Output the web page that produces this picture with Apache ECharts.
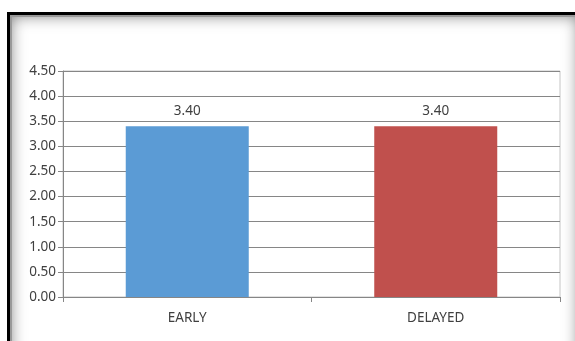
<!DOCTYPE html>
<html>
<head>
<meta charset="utf-8">
<script src="https://cdn.jsdelivr.net/npm/echarts@6/dist/echarts.min.js"></script>
<style>
  html, body { margin: 0; padding: 0; background: #fff; overflow: hidden; }
  #wrap { position: relative; width: 575px; height: 341px; overflow: hidden; }
  #frame {
    position: absolute; left: 7px; top: 12px; width: 572px; height: 360px;
    border: 3px solid #000; border-right: none; box-sizing: border-box;
    box-shadow: inset 2px 2px 0 #999, inset 0 0 16px rgba(0,0,0,0.55);
  }
  #chart { position: absolute; left: 0; top: 0; width: 575px; height: 341px; }
</style>
</head>
<body>
<div id="wrap">
  <div id="frame"></div>
  <div id="chart"></div>
</div>
<script>
const categories = ['EARLY', 'DELAYED'];
const values = [3.40, 3.40];
const barColors = ['#5B9BD5', '#C0504D'];
const yMin = 0, yMax = 4.5, yStep = 0.5;

const textFont = 'Noto Sans';
const textSize = 13.5;
const chart = echarts.init(document.getElementById('chart'), null, { renderer: 'canvas' });
chart.setOption({
  animation: false,
  backgroundColor: 'transparent',
  grid: {
    left: 63, right: 15, top: 71, bottom: 44,
    show: true, borderColor: '#c4c4c4', borderWidth: 1, backgroundColor: 'transparent'
  },
  xAxis: {
    type: 'category',
    data: categories,
    axisLine: { show: true, lineStyle: { color: '#868686', width: 1 } },
    axisTick: { show: true, length: 5, alignWithLabel: false, lineStyle: { color: '#868686' } },
    axisLabel: { color: '#404040', fontFamily: textFont, fontSize: textSize, margin: 14 },
    splitLine: { show: false }
  },
  yAxis: {
    type: 'value',
    min: yMin, max: yMax, interval: yStep,
    axisLine: { show: true, lineStyle: { color: '#868686', width: 1 } },
    axisTick: { show: true, length: 5, lineStyle: { color: '#868686' } },
    axisLabel: {
      color: '#404040', fontFamily: textFont, fontSize: textSize, margin: 7,
      formatter: v => v.toFixed(2)
    },
    splitLine: { show: true, lineStyle: { color: '#868686', width: 1 } }
  },
  series: [{
    type: 'bar',
    data: values.map((v, i) => ({ value: v, itemStyle: { color: barColors[i] } })),
    barWidth: '49.5%',
    label: {
      show: true, position: 'top', distance: 8,
      color: '#404040', fontFamily: textFont, fontSize: textSize,
      formatter: p => p.value.toFixed(2)
    }
  }]
});
</script>
</body>
</html>
